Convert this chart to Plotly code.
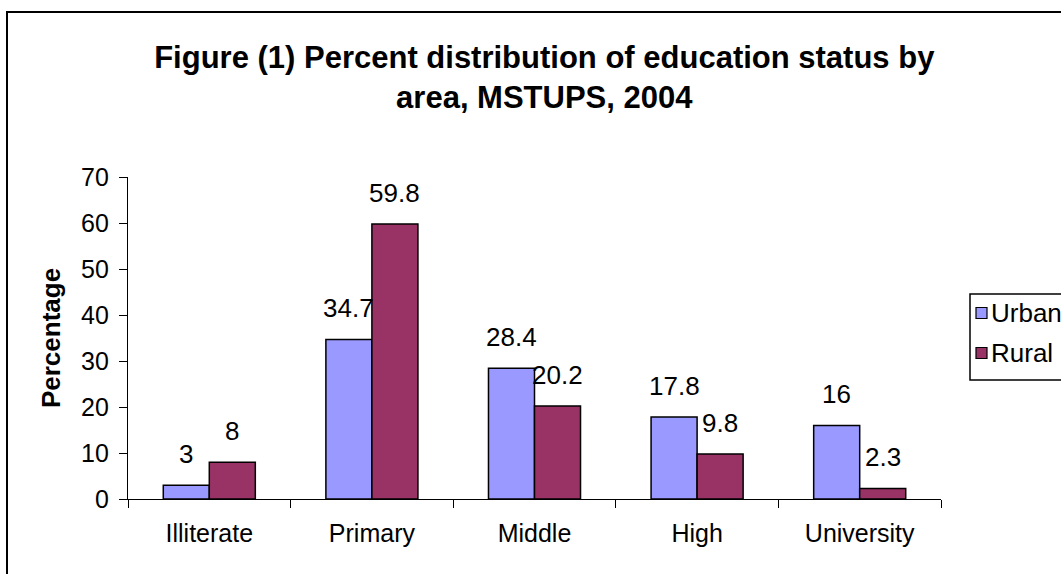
import plotly.graph_objects as go

categories = ["Illiterate", "Primary", "Middle", "High", "University"]
urban = [3, 34.7, 28.4, 17.8, 16]
rural = [8, 59.8, 20.2, 9.8, 2.3]
series_names = ["Urban", "Rural"]
colors = ["#9999FF", "#993366"]
title_text = "Figure (1) Percent distribution of education status by<br>area, MSTUPS, 2004"
y_ticks = [0, 10, 20, 30, 40, 50, 60, 70]

W, H = 1061, 574
ML, MR, MT, MB = 128, 120, 177, 75
PW, PH = W - ML - MR, H - MT - MB
FONT = "Liberation Sans, Arial, sans-serif"


def px_x(p):
    return (p - ML) / PW


def px_y(p):
    return (H - MB - p) / PH


fig = go.Figure()
for name, vals, col in zip(series_names, [urban, rural], colors):
    fig.add_trace(go.Bar(
        x=categories, y=vals, name=name,
        marker=dict(color=col, line=dict(color="black", width=1.5)),
        showlegend=False,
    ))

annotations = []
bar_px = PW / len(categories) * (1 - 0.434) / 2
for i, vals in enumerate([urban, rural]):
    shift = -bar_px / 2 if i == 0 else bar_px / 2
    for c, v in zip(categories, vals):
        annotations.append(dict(
            x=c, y=v, xref="x", yref="y", text=f"{v:g}", showarrow=False,
            xshift=shift, yshift=14, yanchor="bottom",
            font=dict(family=FONT, size=26, color="black"),
        ))

# legend (custom)
shapes = [
    dict(type="rect", xref="paper", yref="paper",
         x0=px_x(7), x1=px_x(1100), y0=px_y(600), y1=px_y(12),
         line=dict(color="black", width=2), layer="below"),
    dict(type="rect", xref="paper", yref="paper",
         x0=px_x(970), x1=px_x(1100), y0=px_y(380), y1=px_y(294),
         line=dict(color="black", width=1.5)),
]
for k, (name, col) in enumerate(zip(series_names, colors)):
    cy = 313 + 40 * k
    shapes.append(dict(type="rect", xref="paper", yref="paper",
                       x0=px_x(976), x1=px_x(987), y0=px_y(cy + 5.5), y1=px_y(cy - 5.5),
                       fillcolor=col, line=dict(color="black", width=1.2)))
    annotations.append(dict(x=px_x(989), y=px_y(cy), xref="paper", yref="paper",
                            text=name, showarrow=False, xanchor="left", yanchor="middle",
                            font=dict(family=FONT, size=26, color="black")))

fig.update_layout(
    width=W, height=H,
    margin=dict(l=ML, r=MR, t=MT, b=MB, autoexpand=False),
    paper_bgcolor="white", plot_bgcolor="white",
    barmode="group", bargap=0.434, bargroupgap=0,
    title=dict(text=title_text, x=0.513, xref="container", xanchor="center",
               y=1 - 68 / H, yref="container", yanchor="middle",
               font=dict(family=FONT, size=31, color="black", weight="bold")),
    xaxis=dict(showline=True, linecolor="black", linewidth=1.2, ticks="outside",
               tickson="boundaries", ticklen=8, tickcolor="black", showgrid=False,
               ticklabelstandoff=12,
               tickfont=dict(family=FONT, size=25, color="black"), automargin=False),
    yaxis=dict(range=[0, 70], tickvals=y_ticks, showline=True, linecolor="black",
               linewidth=1.2, ticks="outside", ticklen=8, tickcolor="black",
               showgrid=False, zeroline=False, ticklabelstandoff=5,
               tickfont=dict(family=FONT, size=25, color="black"), automargin=False,
               title=dict(text="Percentage", standoff=12,
                          font=dict(family=FONT, size=26, color="black", weight="bold"))),
    annotations=annotations, shapes=shapes,
)

fig.write_html("out.html", config={"displayModeBar": False},
               post_script="document.body.style.margin='0';")
